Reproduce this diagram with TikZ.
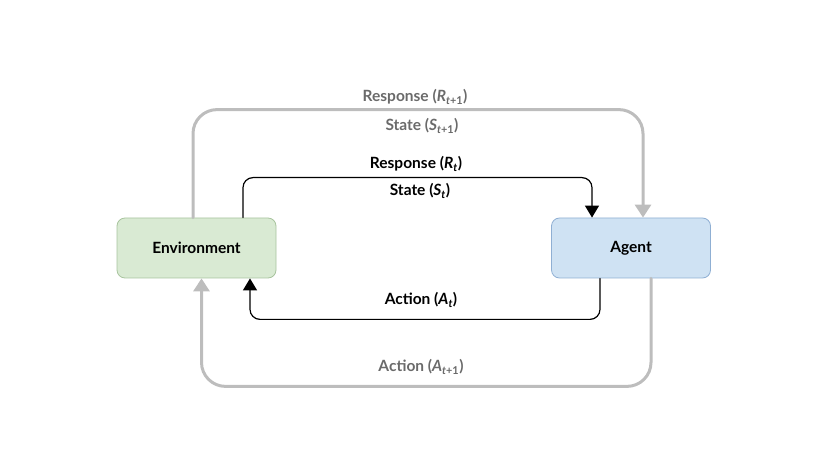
\documentclass[tikz,border=0pt]{standalone}
\usepackage{fontspec}
\setmainfont{Lato}
\usetikzlibrary{arrows.meta}
\definecolor{envfill}{HTML}{D9EAD3}
\definecolor{envline}{HTML}{A8C49E}
\definecolor{agtfill}{HTML}{CFE2F3}
\definecolor{agtline}{HTML}{8FAFD3}
\definecolor{lategray}{HTML}{BDBDBD}
\definecolor{latetext}{HTML}{6A6A6A}
\begin{document}
\begin{tikzpicture}[x=1bp,y=-1bp,font=\fontsize{15.5bp}{18bp}\selectfont\bfseries,line join=round,line cap=round,
	box/.style={draw,rounded corners=8bp,minimum width=159bp,minimum height=60bp,line width=0.8bp},
	nowflow/.style={draw=black,line width=1.2bp,rounded corners=10bp,-{Triangle[width=14bp,length=12bp]}},
	lateflow/.style={draw=lategray,line width=3bp,rounded corners=24bp,-{Triangle[width=16bp,length=13bp]}},
	latelbl/.style={text=latetext}]
	\useasboundingbox (0,0) rectangle (828,466);
	\node[box,fill=envfill,draw=envline] (env) at (196.5,248) {Environment};
	\node[box,fill=agtfill,draw=agtline] (agent) at (631,248) {Agent};
	% later step, outer loop
	\draw[lateflow] ([xshift=-3.5bp]env.north) -- ++(0,-108) -| ([xshift=12bp]agent.north);
	\draw[lateflow] ([xshift=20bp]agent.south) -- ++(0,108) -| ([xshift=5bp]env.south);
	% current step, inner loop
	\draw[nowflow] ([xshift=46.5bp]env.north) -- ++(0,-40) -| ([xshift=-39bp]agent.north);
	\draw[nowflow] ([xshift=-31bp]agent.south) -- ++(0,41) -| ([xshift=53.5bp]env.south);
	% labels
	\node[latelbl] (rlate) at (415,97) {Response (\textit{R}\textsubscript{\textit{t}+1})};
	\node[latelbl] (slate) at (422,126) {State (\textit{S}\textsubscript{\textit{t}+1})};
	\node (rnow) at (416,164) {Response (\textit{R}\textsubscript{\textit{t}})};
	\node (snow) at (420,191) {State (\textit{S}\textsubscript{\textit{t}})};
	\node (anow) at (421,300) {Action (\textit{A}\textsubscript{\textit{t}})};
	\node[latelbl] (alate) at (421,367) {Action (\textit{A}\textsubscript{\textit{t}+1})};
\end{tikzpicture}
\end{document}
